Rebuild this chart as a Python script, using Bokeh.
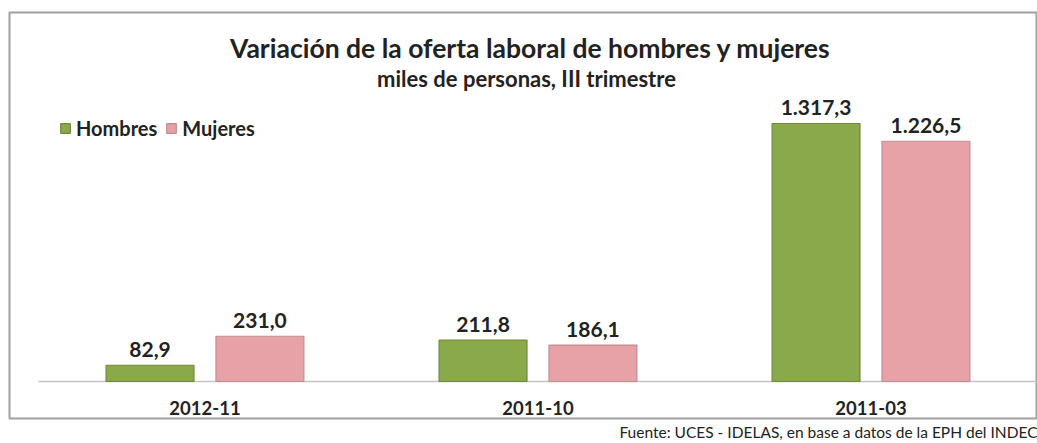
from bokeh.plotting import figure
from bokeh.models import (ColumnDataSource, Range1d, Title, Legend, LegendItem)
from bokeh.core.properties import value
from bokeh.embed import file_html
from bokeh.resources import INLINE

periodos = ["2012-11", "2011-10", "2011-03"]
hombres = [82.9, 211.8, 1317.3]
mujeres = [231.0, 186.1, 1226.5]
series = ["Hombres", "Mujeres"]
titulo = "Variación de la oferta laboral de hombres y mujeres"
subtitulo = "miles de personas, III trimestre"
fuente = "Fuente: UCES - IDELAS, en base a datos de la EPH del INDEC"


def fmt(v):
    s = f"{v:,.1f}"
    return s.replace(",", "X").replace(".", ",").replace("X", ".")


pos = list(range(len(periodos)))
OFF = 0.165
W = 0.264

src = ColumnDataSource(dict(
    pos=pos, periodo=periodos, hombres=hombres, mujeres=mujeres,
    xh=[i - OFF for i in pos], xm=[i + OFF for i in pos],
    h_lbl=[fmt(v) for v in hombres], m_lbl=[fmt(v) for v in mujeres],
    base=[0] * len(pos),
))

FONT = "Lato"
GREEN = "#8aa94b"
PINK = "#e6a2a6"
DARK = "#222222"

X0, X1 = -0.587, len(periodos) - 0.5
Y0, Y1 = -189, 1884

p = figure(width=1037, height=443, x_range=Range1d(X0, X1),
           y_range=Range1d(Y0, Y1), output_backend="svg", toolbar_location=None,
           min_border_left=9, min_border_right=0, min_border_top=12,
           min_border_bottom=25, background_fill_color="white",
           border_fill_color="white", x_axis_type=None, y_axis_type=None)
p.outline_line_color = "#a0a0a0"
p.outline_line_width = 2
p.grid.visible = False

# baseline (category axis line)
p.segment(x0=[-0.5], y0=[0], x1=[len(periodos) - 0.5], y1=[0],
          line_color="#c4c4c4", line_width=1.5)

rh = p.vbar(x="xh", top="hombres", width=W, source=src, fill_color=GREEN,
            line_color="#6e8a38", line_width=1.2)
rm = p.vbar(x="xm", top="mujeres", width=W, source=src, fill_color=PINK,
            line_color="#c48c90", line_width=1.2)

for xcol, col, lbl in (("xh", "hombres", "h_lbl"), ("xm", "mujeres", "m_lbl")):
    p.text(x=xcol, y=col, text=lbl, source=src, text_align="center",
           text_baseline="alphabetic", y_offset=-16,
           text_font=value(FONT), text_font_size="21px", text_font_style="bold",
           text_color=DARK)

# category labels
p.text(x="pos", y="base", text="periodo", source=src, text_align="center",
       text_baseline="middle", y_offset=27, text_font=value(FONT),
       text_font_size="18.5px", text_font_style="bold", text_color=DARK)

# title and subtitle inside the frame box
XC = (X0 + X1) / 2
p.text(x=[XC], y=[Y1], text=[titulo], x_offset=7, y_offset=35,
       text_align="center", text_baseline="middle", text_font=value(FONT),
       text_font_size="26.5px", text_font_style="bold", text_color=DARK)
p.text(x=[XC], y=[Y1], text=[subtitulo], x_offset=3, y_offset=66,
       text_align="center", text_baseline="middle", text_font=value(FONT),
       text_font_size="22px", text_font_style="bold", text_color=DARK)

legend = Legend(items=[LegendItem(label=series[0], renderers=[rh]),
                       LegendItem(label=series[1], renderers=[rm])],
                orientation="horizontal", location=(50, 278),
                border_line_color=None, background_fill_alpha=0,
                padding=0, margin=0, spacing=8, glyph_width=12, glyph_height=12,
                label_standoff=5, label_height=16,
                label_text_font=FONT, label_text_font_size="20px",
                label_text_font_style="bold", label_text_color=DARK)
p.add_layout(legend)

p.add_layout(Title(text=fuente, align="right", text_font=FONT,
                   text_font_size="15.5px", text_font_style="normal",
                   text_color=DARK, standoff=5), "below")

open("out.html", "w").write(file_html(p, INLINE))
